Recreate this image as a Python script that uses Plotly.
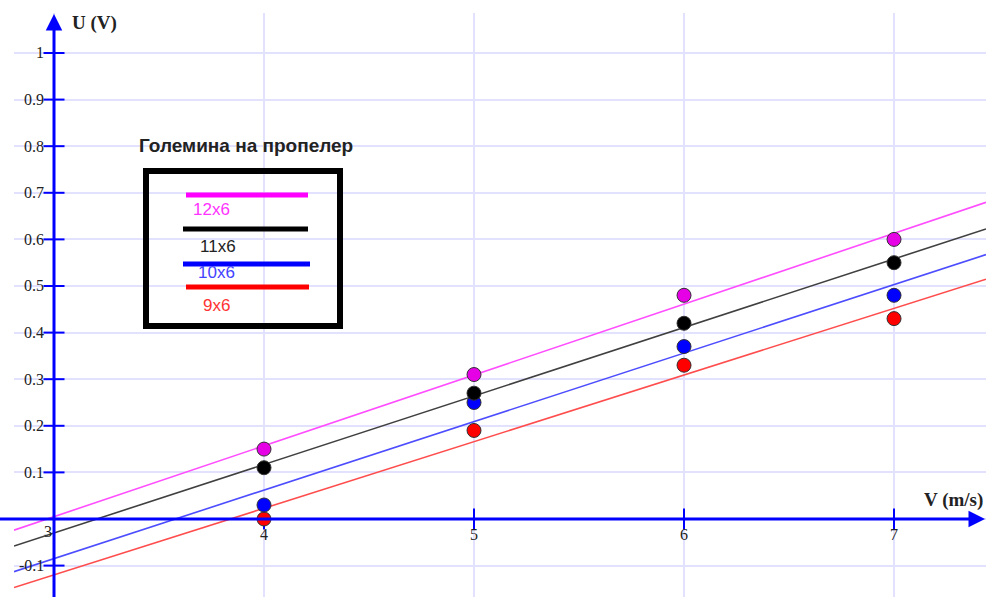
import numpy as np
import plotly.graph_objects as go

# Wind speed (m/s) and generated voltage (V) for four propeller sizes
speed = [4, 5, 6, 7]
u_12x6 = [0.15, 0.31, 0.48, 0.60]
u_11x6 = [0.11, 0.27, 0.42, 0.55]
u_10x6 = [0.03, 0.25, 0.37, 0.48]
u_9x6 = [0.00, 0.19, 0.33, 0.43]

series_names = ["9x6", "10x6", "11x6", "12x6"]
series_values = [u_9x6, u_10x6, u_11x6, u_12x6]
marker_colors = ["#ff0000", "#0000ff", "#000000", "#e600e6"]
line_colors = ["#ff4d4d", "#4d4dff", "#404040", "#ff4dff"]

x_ticks = [4, 5, 6, 7]
y_ticks = [-0.1, 0.1, 0.2, 0.3, 0.4, 0.5, 0.6, 0.7, 0.8, 0.9, 1.0]
y_tick_text = ["-0.1", "0.1", "0.2", "0.3", "0.4", "0.5", "0.6", "0.7", "0.8", "0.9", "1"]

X_RANGE = [2.8095, 7.438]
Y_RANGE = [-0.1674, 1.0858]
AXIS_BLUE = "#0000ff"
W, H = 986, 597
ML, MT = 14, 13

fig = go.Figure()

# least-squares trend line for each propeller
xs_fit = np.array(X_RANGE)
for name, vals, lc in zip(series_names, series_values, line_colors):
    k, b = np.polyfit(speed, vals, 1)
    fig.add_trace(go.Scatter(x=xs_fit, y=k * xs_fit + b, mode="lines",
                             line=dict(color=lc, width=1.6),
                             hoverinfo="skip", showlegend=False))

# axis tick marks
fig.add_trace(go.Scatter(x=[3] * len(y_ticks), y=y_ticks, mode="markers",
                         marker=dict(symbol="line-ew", size=15,
                                     line=dict(color=AXIS_BLUE, width=2)),
                         hoverinfo="skip", showlegend=False))
fig.add_trace(go.Scatter(x=x_ticks, y=[0] * len(x_ticks), mode="markers",
                         marker=dict(symbol="line-ns", size=15,
                                     line=dict(color=AXIS_BLUE, width=2)),
                         hoverinfo="skip", showlegend=False))

# measured points
for name, vals, mc in zip(series_names, series_values, marker_colors):
    fig.add_trace(go.Scatter(x=speed, y=vals, mode="markers", name=name,
                             marker=dict(color=mc, size=14,
                                         line=dict(color="#333333", width=1)),
                             showlegend=False))


def px(x):
    return (x - ML) / (W - ML)


def py(y):
    return 1 - (y - MT) / (H - MT)


shapes = []
# coordinate axes
shapes.append(dict(type="line", xref="paper", yref="y", x0=px(0), x1=px(975),
                   y0=0, y1=0, line=dict(color=AXIS_BLUE, width=3)))
shapes.append(dict(type="line", xref="x", yref="paper", x0=3, x1=3,
                   y0=0, y1=py(22), line=dict(color=AXIS_BLUE, width=3)))

# legend frame and swatches
shapes.append(dict(type="rect", xref="paper", yref="paper",
                   x0=px(146), x1=px(340), y0=py(171), y1=py(326),
                   line=dict(color="#000000", width=6)))
legend_rows = [
    ("12x6", "#ff00ff", "#ff33ff", 186, 308, 195, 211, 209),
    ("11x6", "#000000", "#222222", 183, 308, 229, 218, 246),
    ("10x6", "#0000ff", "#4444ff", 183, 310, 264, 216, 272),
    ("9x6", "#ff0000", "#ff3333", 186, 309, 287, 216, 305),
]
annotations = []
for label, sw, tc, x0, x1, ys, lx, ly in legend_rows:
    shapes.append(dict(type="line", xref="paper", yref="paper",
                       x0=px(x0), x1=px(x1), y0=py(ys), y1=py(ys),
                       line=dict(color=sw, width=5)))
    annotations.append(dict(x=px(lx), y=py(ly), xref="paper", yref="paper",
                            text=label, showarrow=False, xanchor="center",
                            yanchor="middle",
                            font=dict(family="Liberation Sans", size=17, color=tc)))

annotations.append(dict(x=px(246), y=py(145), xref="paper", yref="paper",
                        text="<b>Големина на пропелер</b>", showarrow=False,
                        xanchor="center", yanchor="middle",
                        font=dict(family="Liberation Sans", size=19, color="#222222")))

# axis arrowheads
annotations.append(dict(x=3, y=Y_RANGE[1] - 0.002, xref="x", yref="y", ax=0, ay=14,
                        showarrow=True, arrowhead=2, arrowsize=1.1, arrowwidth=3,
                        arrowcolor=AXIS_BLUE, text=""))
annotations.append(dict(x=px(985), y=0, xref="paper", yref="y", ax=-14, ay=0,
                        showarrow=True, arrowhead=2, arrowsize=1.1, arrowwidth=3,
                        arrowcolor=AXIS_BLUE, text=""))

# axis titles
annotations.append(dict(x=px(70), y=py(23), xref="paper", yref="paper",
                        text="<b>U (V)</b>", showarrow=False, xanchor="left",
                        yanchor="middle",
                        font=dict(family="Liberation Serif", size=19, color="#222222")))
annotations.append(dict(x=px(985), y=py(500), xref="paper", yref="paper",
                        text="<b>V (m/s)</b>", showarrow=False, xanchor="right",
                        yanchor="middle",
                        font=dict(family="Liberation Serif", size=19, color="#222222")))

tick_font = dict(family="Liberation Serif", size=16, color="#222222")
for yv, yt in zip(y_ticks, y_tick_text):
    annotations.append(dict(x=3, y=yv, xref="x", yref="y", text=yt, showarrow=False,
                            xanchor="right", yanchor="middle", xshift=-8,
                            font=tick_font))
for xv in x_ticks:
    annotations.append(dict(x=xv, y=0, xref="x", yref="y", text=str(xv),
                            showarrow=False, xanchor="center", yanchor="top",
                            yshift=-5, font=tick_font))
annotations.append(dict(x=3, y=0, xref="x", yref="y", text="3", showarrow=False,
                        xanchor="right", yanchor="top", xshift=0, yshift=-2,
                        font=tick_font))

fig.update_layout(
    width=W, height=H,
    margin=dict(l=ML, r=0, t=MT, b=0, pad=0),
    paper_bgcolor="white", plot_bgcolor="white",
    shapes=shapes, annotations=annotations,
    xaxis=dict(range=X_RANGE, showgrid=True, gridcolor="#e2e2ff", gridwidth=2,
               tick0=3, dtick=1, showticklabels=False, zeroline=False,
               showline=False, fixedrange=True),
    yaxis=dict(range=Y_RANGE, showgrid=True, gridcolor="#e2e2ff", gridwidth=2,
               tick0=0, dtick=0.1, showticklabels=False, zeroline=False,
               showline=False, fixedrange=True),
)

fig.write_html("out.html")
